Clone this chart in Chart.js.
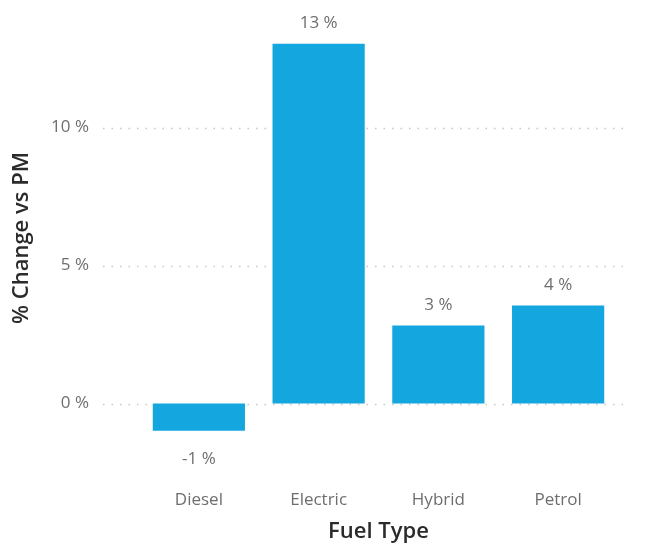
<!DOCTYPE html>
<html>
<head>
<meta charset="utf-8">
<script src="https://cdn.jsdelivr.net/npm/chart.js@4.4.0/dist/chart.umd.min.js"></script>
<style>
  html, body { margin:0; padding:0; background:#fff; }
  #wrap { width:649px; height:545px; }
</style>
</head>
<body>
<div id="wrap"><canvas id="fuel_chart"></canvas></div>
<script>
// 연료 종류별 PM 대비 변화율
const categories = ['Diesel', 'Electric', 'Hybrid', 'Petrol'];
const pct_change = [-0.98, 13.04, 2.83, 3.55];
const y_ticks = [0, 5, 10];

const FONT = "'Open Sans', 'DejaVu Sans', sans-serif";

// 점선 그리드 (plot 영역 왼쪽 여백까지 연장)
const dottedGrid = {
    id: 'dottedGrid',
    beforeDatasetsDraw(chart) {
        const {ctx, chartArea, scales:{y}} = chart;
        ctx.save();
        ctx.strokeStyle = '#c8c8c8';
        ctx.lineWidth = 1.5;
        ctx.setLineDash([1.5, 7]);
        y_ticks.forEach((v) => {
            let py = Math.round(y.getPixelForValue(v)) + 0.5;
            ctx.beginPath();
            ctx.moveTo(chartArea.left - 36, py);
            ctx.lineTo(chartArea.right + 10, py);
            ctx.stroke();
        });
        ctx.restore();
    }
};

// 막대 위/아래 값 라벨
const valueLabels = {
    id: 'valueLabels',
    afterDatasetsDraw(chart) {
        const {ctx} = chart;
        const meta = chart.getDatasetMeta(0);
        ctx.save();
        ctx.font = '17px ' + FONT;
        ctx.fillStyle = '#6e6e6e';
        ctx.textAlign = 'center';
        meta.data.forEach((bar, i) => {
            let v = pct_change[i];
            let txt = Math.round(v) + ' %';
            if (v >= 0) {
                ctx.textBaseline = 'bottom';
                ctx.fillText(txt, bar.x, bar.y - 12);
            } else {
                ctx.textBaseline = 'top';
                ctx.fillText(txt, bar.x, bar.y + 20);
            }
        });
        ctx.restore();
    }
};

let ctx = document.getElementById('fuel_chart');
let myChart = new Chart(ctx, {
    type: 'bar',
    data: {
        labels: categories,
        datasets: [{
            label: '% Change vs PM',
            data: pct_change,
            backgroundColor: '#14a7df',
            borderWidth: 0,
            categoryPercentage: 1.0,
            barPercentage: 0.77
        }]
    },
    options: {
        responsive: true,
        maintainAspectRatio: false,
        animation: false,
        layout: { padding: { left: 0, right: 31, top: 31, bottom: 0 } },
        plugins: {
            legend: { display: false },
            tooltip: { enabled: false }
        },
        scales: {
            x: {
                grid: { display: false, drawTicks: false },
                border: { display: false },
                afterFit: (axis) => {
                    axis.height = 100;
                    axis.paddingLeft = 0; axis.paddingRight = 0;
                },
                ticks: {
                    color: '#6e6e6e',
                    font: { family: FONT, size: 17 },
                    padding: 45
                },
                title: {
                    display: true,
                    text: 'Fuel Type',
                    color: '#2b2b2b',
                    font: { family: FONT, size: 22, weight: '600' },
                    padding: { top: 0, bottom: 0 }
                }
            },
            y: {
                min: -1.5,
                max: 13.5,
                afterBuildTicks: (axis) => {
                    axis.ticks = y_ticks.map((v) => ({value: v}));
                },
                afterFit: (axis) => {
                    axis.width = 139;
                    axis.paddingTop = 0; axis.paddingBottom = 0;
                },
                grid: { display: false, drawTicks: false },
                border: { display: false },
                ticks: {
                    color: '#6e6e6e',
                    font: { family: FONT, size: 17 },
                    padding: 50,
                    callback: (v) => v + ' %'
                },
                title: {
                    display: true,
                    text: '% Change vs PM',
                    color: '#2b2b2b',
                    font: { family: FONT, size: 22, weight: '600' },
                    padding: { top: 9, bottom: 0 }
                }
            }
        }
    },
    plugins: [dottedGrid, valueLabels]
});
</script>
</body>
</html>
